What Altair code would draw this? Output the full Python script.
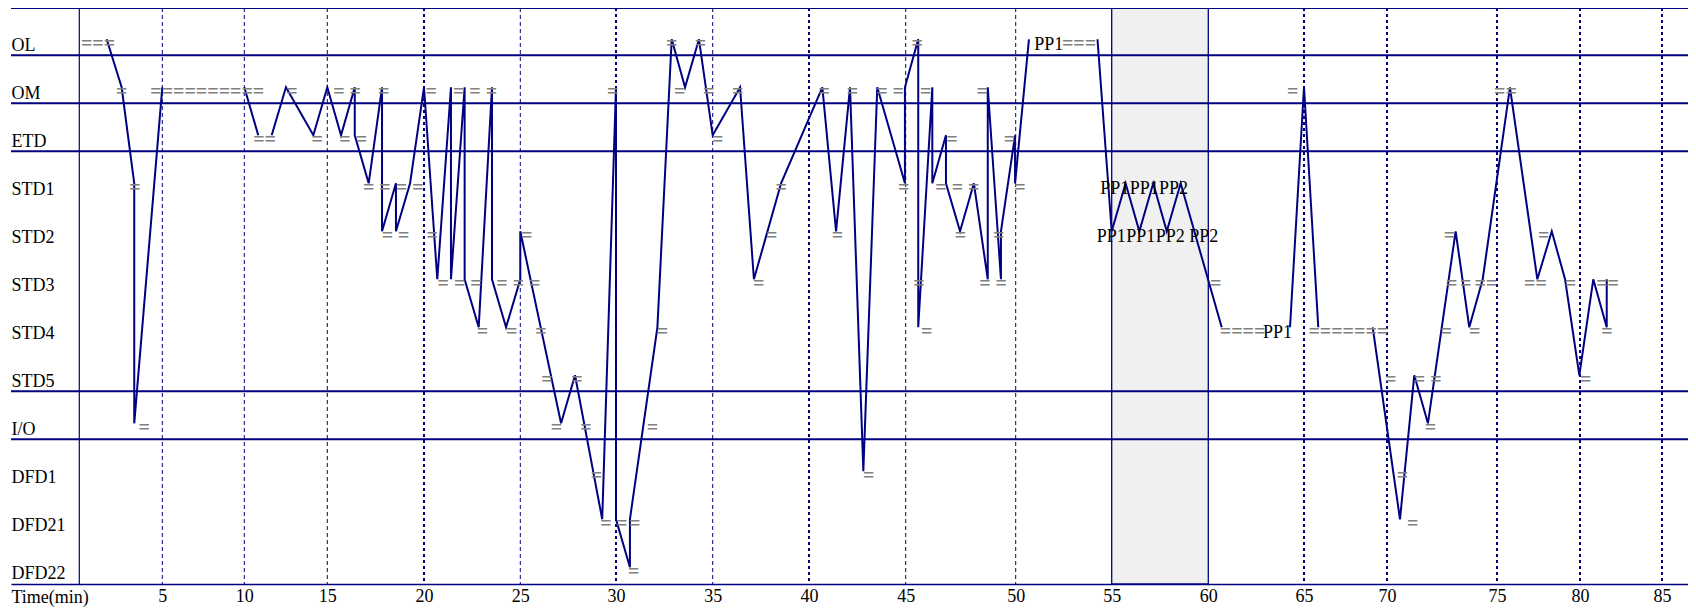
import altair as alt
import pandas as pd

# ---------------- data ----------------
levels = ["OL", "OM", "ETD", "STD1", "STD2", "STD3", "STD4", "STD5", "I/O", "DFD1", "DFD21", "DFD22"]

# navy state path, split where the original leaves a gap (dwell shown by "=")
seg1_t = [1.65, 2.55, 3.31, 3.31, 5.00]
seg1_lv = ["OL", "OM", "STD1", "I/O", "OM"]

seg2_t = [10.00, 10.84]
seg2_lv = ["OM", "ETD"]

seg3_t = [11.65, 12.51, 14.16, 15.00, 15.71, 16.42, 16.42, 17.14, 17.83, 17.83,
          18.55, 18.55, 19.28, 20.00, 20.69, 21.40, 21.40, 22.11, 22.11, 22.84,
          23.53, 23.53, 24.26, 25.00, 25.00, 27.13, 27.86, 29.28, 30.00, 30.00,
          30.72, 30.72, 32.14, 32.88, 33.57, 34.29, 35.00, 36.42, 37.14, 38.55,
          40.69, 41.40, 42.12, 42.81, 43.53, 44.96, 44.96, 45.57, 45.57, 46.21,
          46.21, 46.83, 46.83, 47.47, 48.10, 48.73, 48.73, 49.33, 49.33, 49.97,
          49.97, 50.69]
seg3_lv = ["ETD", "OM", "ETD", "OM", "ETD", "OM", "ETD", "STD1", "OM", "STD2",
           "STD1", "STD2", "STD1", "OM", "STD3", "OM", "STD3", "OM", "STD3", "STD4",
           "OM", "STD3", "STD4", "STD3", "STD2", "I/O", "STD5", "DFD21", "OM", "DFD21",
           "DFD22", "DFD21", "STD4", "OL", "OM", "OL", "ETD", "OM", "STD3", "STD1",
           "OM", "STD2", "OM", "DFD1", "OM", "STD1", "OM", "OL", "STD4", "OM",
           "STD1", "ETD", "STD1", "STD2", "STD1", "STD3", "OM", "STD3", "STD2", "ETD",
           "STD1", "OL"]

seg4_t = [54.26, 55.00, 55.72, 56.43, 57.15, 57.85, 58.57, 60.70]
seg4_lv = ["OL", "STD2", "STD1", "STD2", "STD1", "STD2", "STD1", "STD4"]

seg5_t = [64.27, 65.00, 65.86]
seg5_lv = ["STD4", "OM", "STD4"]

seg6_t = [69.14, 70.59, 71.24, 71.86, 73.12, 73.74, 74.35, 75.78, 77.43, 78.30,
          79.10, 79.96, 80.81, 81.63, 81.63]
seg6_lv = ["STD4", "DFD21", "STD5", "I/O", "STD2", "STD4", "STD3", "OM", "STD3", "STD2",
           "STD3", "STD5", "STD3", "STD4", "STD3"]

# grey "=" marks
eq_time = [1.13, 2.55, 3.36, 3.91, 7.74, 11.22, 12.87, 14.39, 16.02, 16.34,
           17.92, 18.41, 18.53, 20.42, 20.38, 22.65, 21.85, 24.90, 23.04, 24.55,
           26.08, 25.33, 26.39, 27.96, 26.89, 28.43, 31.89, 28.98, 29.48, 30.29,
           30.97, 30.92, 32.40, 29.83, 32.88, 34.37, 33.30, 34.79, 36.30, 40.78,
           35.26, 37.39, 38.06, 38.56, 41.47, 42.25, 43.09, 44.19, 44.90, 45.52,
           45.91, 45.60, 45.95, 47.10, 47.35, 47.49, 48.48, 48.97, 49.23, 49.72,
           50.22, 53.30, 60.39, 61.79, 64.41, 67.67, 70.17, 70.70, 71.17, 71.85,
           71.98, 72.69, 72.84, 72.94, 73.58, 74.49, 73.99, 75.51, 77.32, 77.82,
           79.43, 80.35, 81.68, 81.65]
eq_level = ["OL", "OM", "STD1", "I/O", "OM", "ETD", "OM", "ETD", "OM", "ETD",
            "OM", "STD1", "STD2", "STD2", "OM", "OM", "STD3", "STD3", "STD4", "STD4",
            "STD4", "STD2", "STD5", "STD5", "I/O", "I/O", "I/O", "DFD1", "DFD21", "DFD21",
            "DFD21", "DFD22", "STD4", "OM", "OL", "OL", "OM", "OM", "OM", "OM",
            "ETD", "STD3", "STD2", "STD1", "STD2", "OM", "DFD1", "OM", "STD1", "OL",
            "OM", "STD3", "STD4", "ETD", "STD1", "STD2", "OM", "STD3", "STD2", "ETD",
            "STD1", "OL", "STD3", "STD4", "OM", "STD4", "STD5", "DFD1", "DFD21", "STD5",
            "I/O", "STD4", "STD2", "STD3", "STD3", "STD3", "STD4", "OM", "STD3", "STD2",
            "STD3", "STD5", "STD3", "STD4"]
eq_text = ["===", "=", "=", "=", "==========", "==", "=", "=", "= =", "= =",
           "=", "= = = =", "= =", "=", "=", "= = =", "= = =", "= = =", "=", "=",
           "=", "=", "=", "=", "=", "=", "=", "=", "=", "=",
           "=", "=", "=", "=", "=", "=", "=", "=", "=", "=",
           "=", "=", "=", "=", "=", "=", "=", "= =", "=", "=",
           "=", "=", "=", "=", "= = =", "=", "=", "= =", "=", "=",
           "=", "===", "=", "====", "=", "=======", "=", "=", "=", "= =",
           "=", "=", "=", "=", "=", "==", "=", "==", "==", "=",
           "=", "=", "==", "="]

# black phase labels
pp_time = [51.72, 55.16, 56.68, 58.20, 54.98, 56.50, 58.03, 59.76, 63.62]
pp_level = ["OL", "STD1", "STD1", "STD1", "STD2", "STD2", "STD2", "STD2", "STD4"]
pp_text = ["PP1", "PP1", "PP1", "PP2", "PP1", "PP1", "PP2", "PP2", "PP1"]

x_ticks = [5, 10, 15, 20, 25, 30, 35, 40, 45, 50, 55, 60, 65, 70, 75, 80, 85]
thin_grid = [5, 10, 15, 25, 35, 45, 50]
bold_grid = [20, 30, 40, 65, 70, 75, 80, 85]
band_start = [55]
band_end = [60]
axis_time = [0]
boundary_after = ["OL", "OM", "ETD", "STD5", "I/O"]

# the original time axis is not evenly spaced: piecewise-linear calibration
knot_min = [-4.11, 0, 5, 10, 15, 20, 25, 30, 35, 40, 45, 50, 55, 60, 65, 70, 75, 80, 85, 86.59]
knot_px = [0, 68.3, 151.3, 233.3, 316.3, 413, 509.3, 605, 701.7, 798, 894.7,
           1004.7, 1100.7, 1197.3, 1293, 1376, 1486, 1569, 1651, 1677]

# ---------------- build tables ----------------
lvl_idx = {name: i for i, name in enumerate(levels)}
rows = []
for sid, (ts, ls) in enumerate([(seg1_t, seg1_lv), (seg2_t, seg2_lv), (seg3_t, seg3_lv),
                                (seg4_t, seg4_lv), (seg5_t, seg5_lv), (seg6_t, seg6_lv)], start=1):
    for t, l in zip(ts, ls):
        rows.append({"t": t, "lv": lvl_idx[l], "seg": sid, "o": len(rows)})
path_df = pd.DataFrame(rows)

eq_df = pd.DataFrame({"t": eq_time, "lv": [lvl_idx[l] for l in eq_level], "s": eq_text})
pp_df = pd.DataFrame({"t": pp_time, "lv": [lvl_idx[l] for l in pp_level], "s": pp_text})
bound_df = pd.DataFrame({"lv": [lvl_idx[l] + 1 / 3 for l in boundary_after]})
band_df = pd.DataFrame({"t": band_start, "t1": band_end})

FONT = "Liberation Serif"
NAVY = "#000080"

xs = alt.Scale(domain=knot_min, range=knot_px, nice=False, zero=False)
ys = alt.Scale(domain=[-0.652, 11.348], reverse=True, nice=False, zero=False)

x_axis = alt.Axis(values=x_ticks, format="d", labelFont=FONT, labelFontSize=18, labelColor="black",
                  ticks=False, tickSize=0, grid=False, domainColor=NAVY, domainWidth=1.6,
                  labelPadding=3, labelFlush=False, labelOverlap=False, labelBaseline="top",
                  title="Time(min)", titleFont=FONT, titleFontSize=18, titleFontWeight="normal",
                  titleColor="black", titleX=0, titleY=18, titleAlign="left",
                  titleBaseline="alphabetic", titleAnchor="start")

label_expr = "[" + ",".join("'" + l + "'" for l in levels) + "][datum.value]"
y_axis = alt.Axis(values=list(range(len(levels))), labelExpr=label_expr, labelAlign="left",
                  labelBaseline="alphabetic", labelOffset=11, labelPadding=0, ticks=False,
                  tickSize=0, domain=False, grid=False, labelFont=FONT, labelFontSize=18,
                  labelColor="black", title=None, labelOverlap=False, labelFlush=False)


def X(field):
    return alt.X(field, type="quantitative", scale=xs, axis=x_axis)


def Y(field):
    return alt.Y(field, type="quantitative", scale=ys, axis=y_axis)


band = alt.Chart(band_df).mark_rect(fill="#f0f0f0", stroke=NAVY, strokeWidth=1.3).encode(
    x=X("t"), x2="t1:Q")

thin = alt.Chart(pd.DataFrame({"t": thin_grid})).mark_rule(
    color=NAVY, strokeWidth=1, strokeDash=[4, 3]).encode(x=X("t"))
bold = alt.Chart(pd.DataFrame({"t": bold_grid})).mark_rule(
    color=NAVY, strokeWidth=2, strokeDash=[3, 3]).encode(x=X("t"))

bounds = alt.Chart(bound_df).mark_rule(color=NAVY, strokeWidth=2).encode(y=Y("lv"))
top = alt.Chart(band_df).mark_rule(color=NAVY, strokeWidth=1).encode(y=alt.value(0.5))

yline = alt.Chart(pd.DataFrame({"t": axis_time})).mark_rule(color=NAVY, strokeWidth=1.2).encode(
    x=X("t"))

line = alt.Chart(path_df).mark_line(color=NAVY, strokeWidth=2).encode(
    x=X("t"), y=Y("lv"), detail="seg:N", order="o:Q")

eqs = alt.Chart(eq_df).mark_text(font=FONT, fontSize=20, fontWeight="bold", color="#808080",
                                 align="center", baseline="alphabetic", dy=10.5).encode(
    x=X("t"), y=Y("lv"), text="s:N")

pps = alt.Chart(pp_df).mark_text(font=FONT, fontSize=18, color="black", align="center",
                                 baseline="alphabetic", dy=11).encode(
    x=X("t"), y=Y("lv"), text="s:N")

chart = alt.layer(band, thin, bold, bounds, top, yline, line, eqs, pps).properties(
    width=1677, height=576,
    autosize=alt.AutoSizeParams(type="none"),
    padding={"left": 3, "top": 0, "right": 0, "bottom": 24},
).configure_view(stroke=None)

chart.save("out.html", embed_options={"renderer": "svg", "actions": False})
